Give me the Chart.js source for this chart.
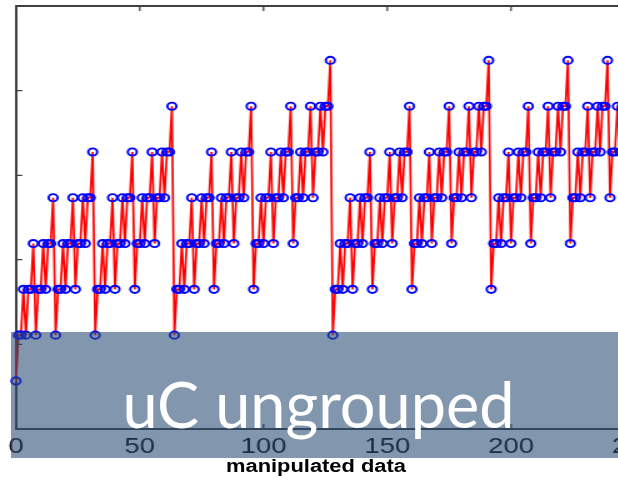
<!DOCTYPE html>
<html>
<head>
<meta charset="utf-8">
<title>uC ungrouped</title>
<script src="https://cdn.jsdelivr.net/npm/chart.js@4.4.1/dist/chart.umd.min.js"></script>
<style>
  html, body { margin: 0; padding: 0; background: #fff; overflow: hidden; }
  #stage { position: relative; width: 618px; height: 488px; overflow: hidden; }
  /* the original figure is stretched sideways, so the whole plot is too */
  #plot { position: absolute; left: 0; top: 0; width: 560px; height: 488px;
          transform: scaleX(1.25); transform-origin: 0 0; }
  #xlabel { position: absolute; left: 152.8px; width: 200px; top: 455px;
            text-align: center; font: bold 17.5px "Liberation Sans", Arial, sans-serif;
            line-height: 22px; color: #000; }
  #band { position: absolute; left: 11px; top: 332px; width: 607px; height: 126px;
          background: rgba(40, 76, 114, 0.58); }
  #band span { position: absolute; left: 0; top: 40px; width: 100%; padding-left: 8px;
               box-sizing: border-box; text-align: center; color: #fff;
               font: 63px/63px Lato, "Open Sans", sans-serif; white-space: nowrap; }
</style>
</head>
<body>
<div id="stage">
  <div id="plot">
    <canvas id="chart" width="560" height="488"></canvas>
    <div id="xlabel">manipulated data</div>
  </div>
  <div id="band"><span>uC ungrouped</span></div>
</div>
<script>
// sample values, one block of 64 samples each
const block0 = [
  0,1,1,2,1,2,2,3,1,2,2,3,2,3,3,4,
  1,2,2,3,2,3,3,4,2,3,3,4,3,4,4,5,
  1,2,2,3,2,3,3,4,2,3,3,4,3,4,4,5,
  2,3,3,4,3,4,4,5,3,4,4,5,4,5,5,6
];
const block1 = [
  1,2,2,3,2,3,3,4,2,3,3,4,3,4,4,5,
  2,3,3,4,3,4,4,5,3,4,4,5,4,5,5,6,
  2,3,3,4,3,4,4,5,3,4,4,5,4,5,5,6,
  3,4,4,5,4,5,5,6,4,5,5,6,5,6,6,7
];
const block2 = [
  1,2,2,3,2,3,3,4,2,3,3,4,3,4,4,5,
  2,3,3,4,3,4,4,5,3,4,4,5,4,5,5,6,
  2,3,3,4,3,4,4,5,3,4,4,5,4,5,5,6,
  3,4,4,5,4,5,5,6,4,5,5,6,5,6,6,7
];
const block3 = [
  2,3,3,4,3,4,4,5,3,4,4,5,4,5,5,6,
  3,4,4,5,4,5,5,6,4,5,5,6,5,6,6,7,
  3,4,4,5,4,5,5,6,4,5,5,6,5,6,6,7,
  4,5,5,6,5,6,6,7,5,6,6,7,6,7,7,8
];

const xTicks = [0, 50, 100, 150, 200, 250];
const yTicks = [0.80, 2.65, 4.49, 6.34];   // unlabelled tick marks

const axisColor = '#404040';

const values = block0.concat(block1, block2, block3);
const points = values.map((v, i) => ({ x: i, y: v }));

// MATLAB-style box: top edge plus inward tick marks
const frameTicks = {
  id: 'frameTicks',
  afterDraw(chart) {
    const { ctx, chartArea: a, scales: { x, y } } = chart;
    ctx.save();
    ctx.strokeStyle = axisColor;
    ctx.lineWidth = 2;
    ctx.beginPath();
    ctx.moveTo(a.left, a.top);
    ctx.lineTo(a.right, a.top);
    ctx.stroke();

    ctx.lineWidth = 1.3;
    ctx.beginPath();
    xTicks.forEach(v => {
      const px = x.getPixelForValue(v);
      ctx.moveTo(px, a.bottom); ctx.lineTo(px, a.bottom - 5);
      ctx.moveTo(px, a.top);    ctx.lineTo(px, a.top + 5);
    });
    yTicks.forEach(v => {
      const py = y.getPixelForValue(v);
      ctx.moveTo(a.left, py); ctx.lineTo(a.left + 5, py);
    });
    ctx.stroke();
    ctx.restore();
  }
};

new Chart(document.getElementById('chart'), {
  type: 'line',
  data: {
    datasets: [{
      data: points,
      borderColor: '#ff0000',
      borderWidth: 1.7,
      tension: 0,
      pointRadius: 3.6,
      pointBorderWidth: 1.9,
      pointBorderColor: '#0000ff',
      pointBackgroundColor: 'rgba(0,0,0,0)',
      clip: false
    }]
  },
  options: {
    responsive: false,
    animation: false,
    layout: { padding: { left: 12.8, right: 12.6, top: 5, bottom: 0 } },
    plugins: { legend: { display: false }, tooltip: { enabled: false } },
    scales: {
      x: {
        type: 'linear',
        min: 0,
        max: 270,
        afterBuildTicks: s => { s.ticks = xTicks.map(v => ({ value: v })); },
        afterFit: s => { s.height = 59; s.paddingLeft = 0; s.paddingRight = 0; },
        grid: { display: false, drawTicks: false },
        border: { display: true, color: axisColor, width: 2 },
        ticks: {
          color: '#000',
          padding: 5,
          maxRotation: 0,
          autoSkip: false,
          font: { family: '"Liberation Sans", Arial, sans-serif', size: 22 }
        }
      },
      y: {
        min: -1.05,
        max: 8.19,
        afterBuildTicks: s => { s.ticks = yTicks.map(v => ({ value: v })); },
        afterFit: s => { s.width = 0; },
        grid: { display: false, drawTicks: false },
        border: { display: true, color: axisColor, width: 2 },
        ticks: { display: false }
      }
    }
  },
  plugins: [frameTicks]
});
</script>
</body>
</html>
